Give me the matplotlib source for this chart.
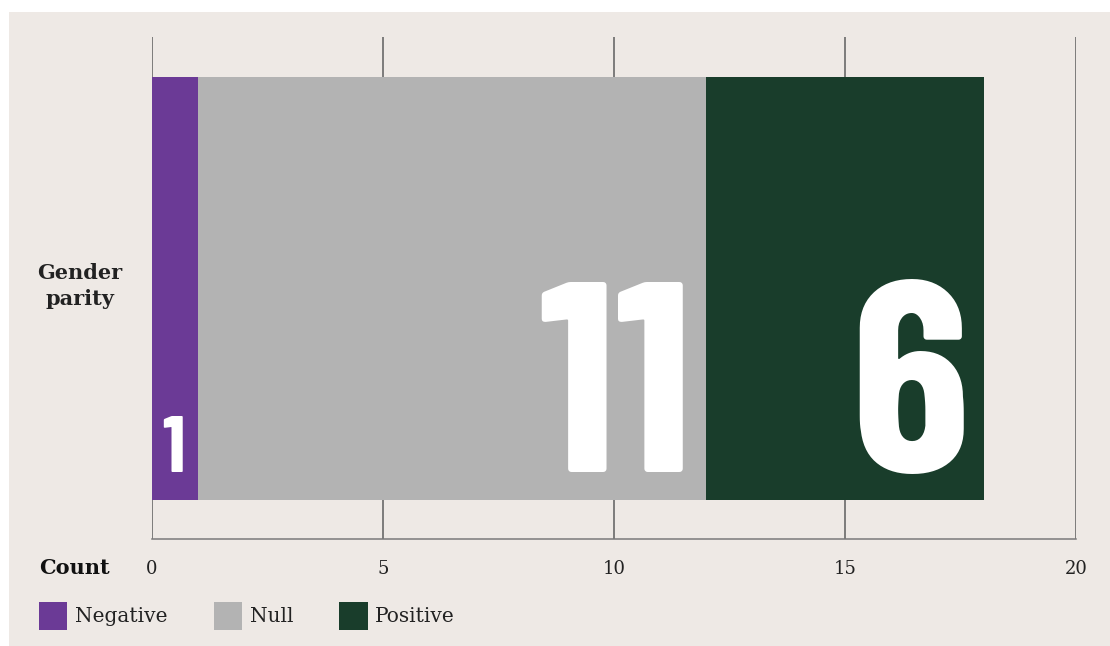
import matplotlib
matplotlib.use("Agg")
import matplotlib.pyplot as plt
from matplotlib.patches import Rectangle
from matplotlib import font_manager as fm

# Datos del gráfico
category = "Gender\nparity"
series = ["Negative", "Null", "Positive"]
counts = [1, 11, 6]
colors = ["#6b3a96", "#b3b3b3", "#193d2b"]
x_ticks = [0, 5, 10, 15, 20]

BG = "#eee9e5"
installed = {f.name for f in fm.fontManager.ttflist}


def pick(cands):
    return [c for c in cands if c in installed] + ["DejaVu Sans"]


SERIF = pick(["DejaVu Serif"])
NUMFONT = pick(["Barlow Condensed", "Roboto Condensed", "Oswald", "Liberation Sans Narrow"])

W, H = 1110, 646
fig = plt.figure(figsize=(W / 100, H / 100), dpi=100, facecolor="white")

# panel beige con margen blanco arriba e izquierda
fig.patches.append(Rectangle((9 / W, 0), 1, 1 - 12 / H, transform=fig.transFigure,
                             facecolor=BG, edgecolor="none", zorder=-10))

ax = fig.add_axes([152 / W, 107 / H, (1076 - 152) / W, (539 - 37) / H])
ax.patch.set_alpha(0)

bar_h = (499 - 76) / (539 - 37)
left = 0
px_per_unit = (1076 - 152) / 20
for name, val, col in zip(series, counts, colors):
    ax.barh(0, val, left=left, height=bar_h, color=col, label=name, zorder=3)
    size = min(196, 1.24 * val * px_per_unit)
    ax.annotate(str(val), xy=(left + val, -bar_h / 2), xytext=(-13.5, 27),
                textcoords="offset pixels", ha="right", va="baseline",
                color="white", fontsize=size, fontweight="bold",
                family=NUMFONT, zorder=4)
    left += val

ax.set_xlim(0, 20)
ax.set_ylim(-0.5, 0.5)
ax.set_xticks(x_ticks)
ax.set_xticklabels([str(t) for t in x_ticks], family=SERIF, fontsize=13, color="#222222")
ax.set_yticks([])
ax.tick_params(axis="x", length=0, pad=15)
ax.grid(axis="x", color="#5e5e5e", linewidth=1.1, zorder=0)
ax.set_axisbelow(True)
for s in ["top", "right", "left"]:
    ax.spines[s].set_visible(False)
ax.spines["bottom"].set_color("#7a7a7a")
ax.spines["bottom"].set_linewidth(1.1)

fig.text(80 / W, 1 - 286 / H, category, ha="center", va="center", multialignment="center",
         family=SERIF, fontsize=15, fontweight="bold", color="#222222", linespacing=1.35)
fig.text(39 / W, 1 - 568 / H, "Count", ha="left", va="center",
         family=SERIF, fontsize=15, fontweight="bold", color="#111111")

leg = ax.legend(loc="upper left", bbox_to_anchor=(39 / W, 1 - 602 / H),
                bbox_transform=fig.transFigure, ncol=3, frameon=False,
                prop={"family": SERIF, "size": 14.5}, handlelength=1.4, handleheight=1.75,
                handletextpad=0.38, columnspacing=2.3, borderpad=0, borderaxespad=0)
for t in leg.get_texts():
    t.set_color("#222222")

fig.savefig("out.png", dpi=100, facecolor="white")
